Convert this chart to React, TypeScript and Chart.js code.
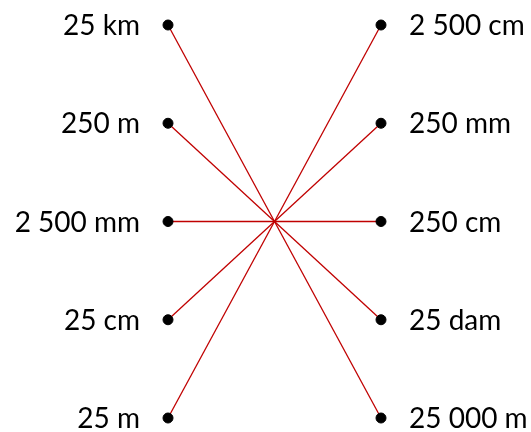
import React, { useEffect, useRef } from "react";
import { Chart, registerables } from "chart.js";

Chart.register(...registerables);

const leftLabels = ["25 km", "250 m", "2 500 mm", "25 cm", "25 m"];
const rightLabels = ["2 500 cm", "250 mm", "250 cm", "25 dam", "25 000 m"];
// matches: index on left -> index on right
const matches = [4, 3, 2, 1, 0];

const LINE_COLOR = "#c00000";

export default function App() {
  const ref = useRef<HTMLCanvasElement | null>(null);

  useEffect(() => {
    document.body.style.margin = "0";
    const canvas = ref.current;
    if (!canvas) return;

    const leftPts = leftLabels.map((_, i) => ({ x: 0, y: i }));
    const rightPts = rightLabels.map((_, i) => ({ x: 1, y: i }));

    const lineSets = matches.map((r, l) => ({
      type: "line" as const,
      data: [
        { x: 0, y: l },
        { x: 1, y: r },
      ],
      borderColor: LINE_COLOR,
      backgroundColor: LINE_COLOR,
      borderWidth: 1.3,
      pointRadius: 0,
      fill: false,
      clip: false,
      order: 2,
    }));

    const labelPlugin = {
      id: "sideLabels",
      afterDatasetsDraw(chart: any) {
        const ctx = chart.ctx;
        const xs = chart.scales.x;
        const ys = chart.scales.y;
        ctx.save();
        ctx.font = "28px Lato";
        ctx.fillStyle = "#000";
        ctx.textBaseline = "alphabetic";
        leftLabels.forEach((t, i) => {
          ctx.textAlign = "right";
          ctx.fillText(t, xs.getPixelForValue(0) - 28, ys.getPixelForValue(i) + 10);
        });
        rightLabels.forEach((t, i) => {
          ctx.textAlign = "left";
          ctx.fillText(t, xs.getPixelForValue(1) + 28, ys.getPixelForValue(i) + 10);
        });
        ctx.restore();
      },
    };

    const chart = new Chart(canvas, {
      type: "scatter",
      data: {
        datasets: [
          ...lineSets,
          {
            type: "scatter",
            data: leftPts,
            backgroundColor: "#000",
            borderColor: "#000",
            pointRadius: 5,
            clip: false,
            order: 1,
          },
          {
            type: "scatter",
            data: rightPts,
            backgroundColor: "#000",
            borderColor: "#000",
            pointRadius: 5,
            clip: false,
            order: 1,
          },
        ] as any,
      },
      options: {
        animation: false,
        responsive: false,
        events: [],
        layout: { padding: { left: 168, right: 150, top: 25, bottom: 14 } },
        plugins: { legend: { display: false }, tooltip: { enabled: false } },
        scales: {
          x: { type: "linear", min: 0, max: 1, display: false },
          y: { type: "linear", min: 0, max: 4, reverse: true, display: false },
        },
      },
      plugins: [labelPlugin],
    });

    return () => chart.destroy();
  }, []);

  return <canvas ref={ref} width={531} height={432} style={{ display: "block" }} />;
}
